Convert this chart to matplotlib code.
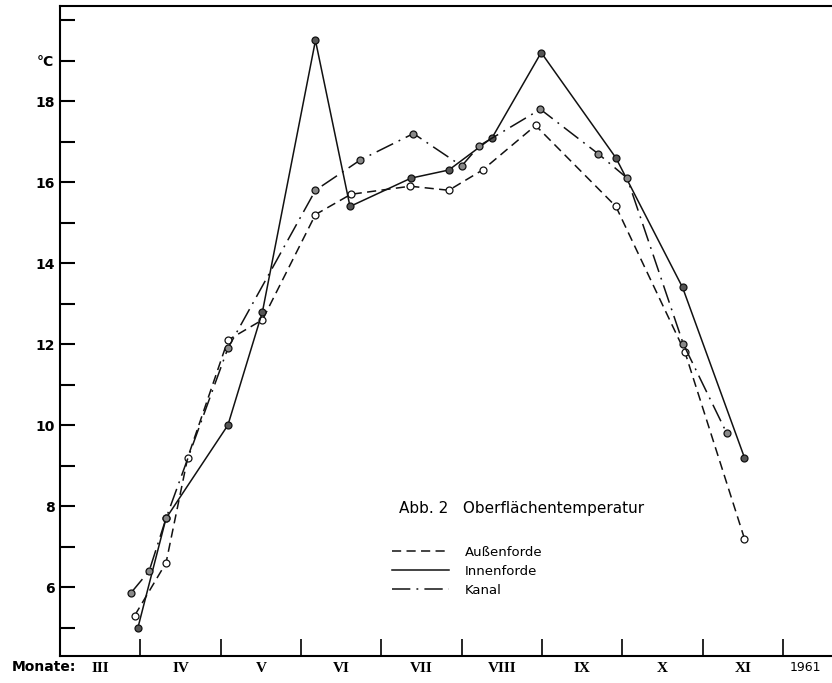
import numpy as np
import matplotlib
matplotlib.use("Agg")
import matplotlib.pyplot as plt
from matplotlib.lines import Line2D

# Monate ab 1. Maerz 1961 (0 = Anfang III)
aussen_x = [0.93, 1.32, 1.59, 2.09, 2.52, 3.18, 3.62, 4.36, 4.84, 5.26, 5.92, 6.92, 7.78, 8.52]
aussen_y = [5.3, 6.6, 9.2, 12.1, 12.6, 15.2, 15.7, 15.9, 15.8, 16.3, 17.4, 15.4, 11.8, 7.2]

innen_x = [0.97, 1.32, 2.09, 2.52, 3.18, 3.61, 4.37, 4.84, 5.38, 5.99, 6.92, 7.75, 8.52]
innen_y = [5.0, 7.7, 10.0, 12.8, 19.5, 15.4, 16.1, 16.3, 17.1, 19.2, 16.6, 13.4, 9.2]

kanal_x = [0.88, 1.11, 1.32, 2.09, 3.18, 3.74, 4.40, 5.00, 5.22, 5.98, 6.70, 7.06, 7.76, 8.30]
kanal_y = [5.85, 6.4, 7.7, 11.9, 15.8, 16.55, 17.2, 16.4, 16.9, 17.8, 16.7, 16.1, 12.0, 9.8]

monate = ["III", "IV", "V", "VI", "VII", "VIII", "IX", "X", "XI"]
y_ticks = list(range(5, 21))
y_labels = ["", "6", "", "8", "", "10", "", "12", "", "14", "", "16", "", "18", "°C", ""]

dash_aussen = (6, 3.5)
dash_kanal = (12, 4, 1.2, 4)

fig = plt.figure(figsize=(8.32, 6.83), dpi=100)
ax = fig.add_axes([60/832, 27/683, 772/832, 650/683])

ax.plot(aussen_x, aussen_y, color="#111111", lw=1.1, dashes=dash_aussen,
        marker="o", ms=5, mfc="white", mec="#111111", mew=0.9)
ax.plot(innen_x, innen_y, color="#111111", lw=1.1,
        marker="o", ms=5, mfc="#555555", mec="#111111", mew=0.9)
ax.plot(kanal_x, kanal_y, color="#111111", lw=1.1, dashes=dash_kanal,
        marker="o", ms=5, mfc="#888888", mec="#111111", mew=0.9)

ax.set_xlim(0, 9.61)
ax.set_ylim(4.30, 20.35)

# Achsen
ax.spines["right"].set_visible(False)
for s in ["left", "top", "bottom"]:
    ax.spines[s].set_linewidth(1.5)

ax.set_yticks(y_ticks)
ax.set_yticklabels(y_labels, fontsize=10, fontweight="bold")
ax.tick_params(axis="y", direction="in", length=11, width=1.5, pad=4)

ax.set_xticks(np.arange(1, 10))
ax.set_xticklabels([])
ax.tick_params(axis="x", which="major", direction="in", length=12, width=1.2)
ax.set_xticks(np.arange(len(monate)) + 0.5, minor=True)
ax.set_xticklabels(monate, minor=True, fontsize=11, fontweight="bold",
                   family="Liberation Serif")
ax.tick_params(axis="x", which="minor", length=0, pad=4)

ax.text(9.28, -0.017, "1961", transform=ax.get_xaxis_transform(),
        ha="center", va="center", fontsize=9)
fig.text(12/832, 1 - 667/683, "Monate:", ha="left", va="center",
         fontsize=10, fontweight="bold")

ax.text(4.22, 7.93, "Abb. 2   Oberflächentemperatur", ha="left", va="center",
        fontsize=11)

handles = [Line2D([], [], color="#111111", lw=1.1, dashes=dash_aussen),
           Line2D([], [], color="#111111", lw=1.1),
           Line2D([], [], color="#111111", lw=1.1, dashes=dash_kanal)]
ax.legend(handles, ["Außenforde", "Innenforde", "Kanal"], frameon=False,
          loc="upper left", bbox_to_anchor=(392/832, 1 - 546/683),
          bbox_transform=fig.transFigure, borderpad=0, borderaxespad=0,
          handlelength=4.3, handletextpad=1.2, labelspacing=0.45, fontsize=9.5)

fig.savefig("out.png", dpi=100)
